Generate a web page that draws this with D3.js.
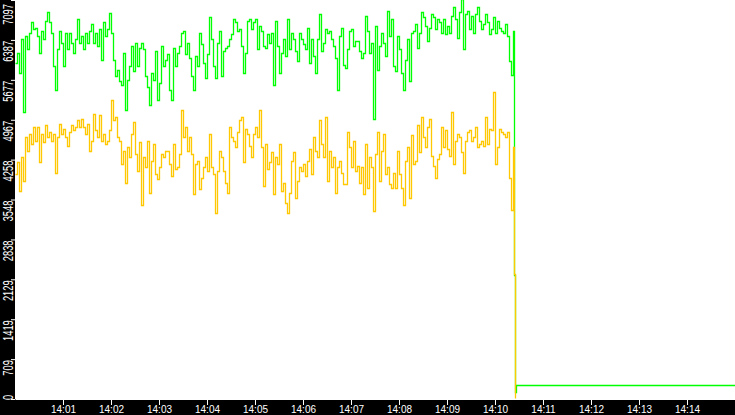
<!DOCTYPE html>
<html>
<head>
<meta charset="utf-8">
<script src="https://cdn.jsdelivr.net/npm/d3@7"></script>
<style>
  html, body { margin: 0; padding: 0; background: #000; }
  svg { display: block; }
</style>
</head>
<body>
<div id="chart"></div>
<script>
// samples every 2.5 s from 14:00:00
var stepSec = 2.5;
var greenVals = [
  5960, 6140, 5780, 6380, 5090, 6440, 6200, 6500, 6680, 6560, 6590, 6440, 6140, 6530, 6380, 6710, 6860, 6680, 6500, 5900,
  5480, 6200, 6530, 6320, 5900, 6500, 6200, 6500, 6320, 6140, 6380, 6750, 6320, 6440, 6200, 6500, 6320, 6530, 6650, 6320,
  6500, 6260, 6560, 6020, 6680, 6440, 6560, 6850, 6500, 6020, 5720, 5840, 5630, 5570, 6140, 5120, 5660, 5900, 6260, 5810,
  6320, 5900, 6230,
  6320, 6200, 5720, 5540, 5210, 5780, 5660, 6170, 5300, 5600, 6260, 5900, 6020, 6110, 5480, 5300, 6230, 5900, 6140, 6260,
  6500, 6530, 6110, 6320, 6050, 5720, 5480, 6080, 5900, 6500, 6290, 5960, 5690, 6110, 6770, 6380, 5900, 5690, 6320, 6530,
  5720, 6170, 6230, 6260, 6380, 6470, 6740, 6680, 6530, 6560, 6260, 5780, 6140, 6710, 6740, 6560, 6680, 6740, 6200, 6620,
  6530, 6260,
  6230, 6470, 6320, 6500, 5570, 6710, 6260, 5780, 6140, 6380, 6080, 6740, 6200, 6500, 6380, 6170, 5990, 6500, 6380, 6290,
  6200, 6590, 5960, 6380, 6080, 5780, 6380, 6830, 6170, 6320, 6560, 6500, 6530, 6380, 6260, 6050, 5480, 6440, 6590, 5930,
  5870, 6200, 6530, 6560, 6260, 6350, 6350, 6170, 6050, 6140, 6800, 6530, 6140, 6320, 4970, 6620, 5840, 6260, 6500, 6320,
  6080, 6890, 6440,
  6740, 5900, 5810, 6440, 6200, 5780, 5480, 6020, 6380, 5630, 6500, 6530, 6650, 6230, 6500, 6860, 6770, 6620, 6350, 6590,
  6830, 6770, 6560, 6740, 6680, 6500, 6740, 6470, 6620, 6500, 6800, 6950, 6740, 6410, 6860, 7100, 6200, 6830, 6890, 6560,
  6800, 6500, 6830, 6950, 6710, 6560, 6650, 6830, 6680, 6470, 6560, 6770, 6500, 6710, 6590, 6530, 6500, 6650, 6440, 5990,
  5750, 6530
];
var orangeVals = [
  3980, 4190, 3680, 4280, 3860, 4640, 4400, 4700, 4520, 4820, 4580, 4820, 4190, 4700, 4550, 4850, 4640, 4730, 4580, 4700,
  4010, 4640, 4880, 4700, 4790, 4640, 4490, 4730, 4850, 4760, 4820, 4940, 4820, 4970, 4820, 4700, 4880, 4400, 4580, 5060,
  4760, 4640, 5030, 4580, 4700, 4520, 4580, 4760, 5300, 4940, 5000, 4640, 4580, 4160, 4400, 3830, 4460, 4280, 4700, 4910,
  4340, 4040, 4550,
  3440, 4280, 4100, 4580, 3650, 4220, 4520, 3980, 3890, 4100, 4340, 4280, 4400, 4400, 4160, 3950, 4520, 4070, 4100, 4340,
  5120, 4640, 4820, 4400, 4640, 4340, 3620, 4160, 4220, 3710, 3920, 4100, 4280, 4040, 4700, 4100, 3980, 3290, 4040, 4400,
  4280, 4040, 3830, 3650, 4820, 4640, 4580, 4460, 4730, 4940, 5000, 4190, 4790, 4700, 4490, 4280, 4700, 4820, 4640, 5120,
  4460, 3770,
  4520, 4070, 4190, 4370, 3620, 4280, 4160, 4520, 3680, 3830, 3470, 3290, 3650, 4220, 4370, 3560, 3860, 4100, 4040, 4160,
  3950, 4220, 4430, 3980, 4640, 4400, 4280, 4940, 4520, 4280, 5000, 3860, 4400, 4100, 4280, 3650, 4100, 4220, 4010, 3800,
  3800, 4730, 4460, 4100, 4580, 4040, 4130, 3830, 4100, 3620, 4520, 3740, 4280, 4100, 3320, 4340, 4730, 3860, 4400, 4700,
  3980, 4100, 3800,
  3740, 4010, 3740, 4400, 3980, 3740, 3440, 4220, 4460, 3560, 4670, 4160, 4220, 4850, 4370, 5000, 4640, 4460, 4820, 4970,
  4310, 4130, 3920, 4250, 4340, 4820, 4460, 4760, 4430, 4310, 5090, 4160, 4580, 4700, 4640, 4370, 4010, 4580, 4730, 4760,
  4580, 4640, 4820, 4460, 4520, 4580, 4490, 5000, 4520, 4790, 4760, 5450, 4160, 4460, 4790, 4730, 4700, 4640, 4730, 3920,
  3350, 4460
];
// the drop at the end (seconds after 14:00)
var greenTailSec = [624, 625.5, 626.5, 900];
var greenTail = [2190, 110, 238, 238];
var orangeTailSec = [624, 625.3];
var orangeTail = [2200, 0];

var yTicks = [0, 709, 1419, 2129, 2838, 3548, 4258, 4967, 5677, 6387, 7097];
var xTickLabels = ["14:01", "14:02", "14:03", "14:04", "14:05", "14:06", "14:07",
                   "14:08", "14:09", "14:10", "14:11", "14:12", "14:13", "14:14"];

var width = 735, height = 415;
var margin = {top: 0, right: 0, bottom: 16, left: 15};
var plotW = width - margin.left - margin.right;
var plotH = height - margin.top - margin.bottom;

var t0 = new Date(2000, 0, 1, 14, 0, 0);
function at(sec) { return new Date(t0.getTime() + sec * 1000); }

var green = greenVals.map(function(v, i) { return {t: at(i * stepSec), v: v}; })
  .concat(greenTailSec.map(function(s, i) { return {t: at(s), v: greenTail[i]}; }));
var orange = orangeVals.map(function(v, i) { return {t: at(i * stepSec), v: v}; })
  .concat(orangeTailSec.map(function(s, i) { return {t: at(s), v: orangeTail[i]}; }));

var svg = d3.select("#chart").append("svg")
    .attr("width", width)
    .attr("height", height);

svg.append("rect").attr("width", width).attr("height", height).attr("fill", "#000");
svg.append("rect")
    .attr("x", margin.left).attr("y", margin.top)
    .attr("width", plotW).attr("height", plotH)
    .attr("fill", "#fff");

var x = d3.scaleTime()
    .domain([t0, at(900)])
    .range([margin.left, width - margin.right]);
var y = d3.scaleLinear()
    .domain([0, 7097])
    .range([margin.top + plotH, margin.top]);

svg.append("clipPath").attr("id", "plot")
  .append("rect")
    .attr("x", margin.left).attr("y", margin.top)
    .attr("width", plotW).attr("height", plotH);

// snap to pixel centres so the steps stay sharp
var line = d3.line()
    .x(function(d) { return Math.round(x(d.t)) + 0.5; })
    .y(function(d) { return Math.round(y(d.v)) - 0.5; })
    .curve(d3.curveStepAfter);

var lines = svg.append("g").attr("clip-path", "url(#plot)");
lines.append("path")
    .datum(green)
    .attr("d", line)
    .attr("fill", "none")
    .attr("stroke", "#00ff00")
    .attr("stroke-width", 1.3);
lines.append("path")
    .datum(orange)
    .attr("d", line)
    .attr("fill", "none")
    .attr("stroke", "#ffc800")
    .attr("stroke-width", 1.3);

// x axis
var xTickTimes = xTickLabels.map(function(s, i) { return at((i + 1) * 60); });
var xAxis = d3.axisBottom(x)
    .tickValues(xTickTimes)
    .tickFormat(function(d, i) { return xTickLabels[i]; })
    .tickSize(6)
    .tickSizeOuter(0)
    .tickPadding(1);
var gx = svg.append("g")
    .attr("transform", "translate(0," + (margin.top + plotH) + ")")
    .call(xAxis);
gx.select(".domain").attr("stroke", "#fff");
gx.selectAll(".tick line").attr("stroke", "#fff");
gx.selectAll(".tick text")
    .attr("fill", "#fff")
    .style("font-family", "'Liberation Sans', Arial, sans-serif")
    .style("font-size", "10px");

// y axis
var yAxis = d3.axisLeft(y)
    .tickValues(yTicks)
    .tickFormat("")
    .tickSize(4)
    .tickSizeOuter(0);
var gy = svg.append("g")
    .attr("transform", "translate(" + margin.left + ",0)")
    .call(yAxis);
gy.select(".domain").remove();
gy.selectAll(".tick line").attr("stroke", "#fff");

// rotated y labels (narrow and tall)
svg.append("g").selectAll("text")
    .data(yTicks)
    .join("text")
    .attr("transform", function(d) {
      return "translate(12.5," + Math.max(y(d) + 1, 4) + ") rotate(-90)";
    })
    .attr("text-anchor", function(d) { return d === 0 ? "start" : "end"; })
    .attr("textLength", function(d) { return String(d).length * 5.2; })
    .attr("lengthAdjust", "spacingAndGlyphs")
    .attr("fill", "#fff")
    .style("font-family", "'Liberation Sans', Arial, sans-serif")
    .style("font-size", "14px")
    .text(function(d) { return d; });
</script>
</body>
</html>
